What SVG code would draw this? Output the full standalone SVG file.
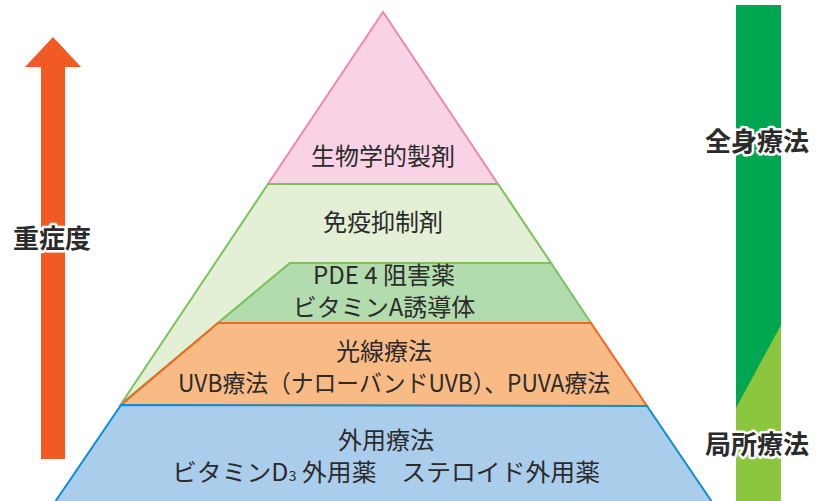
<svg xmlns="http://www.w3.org/2000/svg" width="827" height="501" viewBox="0 0 827 501">
<style>
.t{font-family:"Noto Sans CJK JP","Noto Sans",sans-serif;font-size:24px;fill:#2b2b2b;text-anchor:middle}
.lab{font-family:"Noto Sans CJK JP","Noto Sans",sans-serif;font-size:26px;font-weight:700;fill:#2b2b2b;text-anchor:middle;stroke:#fff;stroke-width:5px;stroke-linejoin:round;paint-order:stroke}
.ln{stroke-width:2;stroke-linejoin:miter}
</style>
<rect width="827" height="501" fill="#fff"/>
<g id="severity-arrow">
<polygon points="53,37 81,67 65,67 65,459 41,459 41,67 25,67" fill="#f15a24"/>
<text class="lab" x="52" y="248">重症度</text>
</g>
<g id="therapy-bar">
<rect x="736" y="5" width="45" height="496" fill="#00a650"/>
<polygon points="781,325 781,501 736,501 736,408" fill="#8cc63f"/>
<text class="lab" x="757" y="151">全身療法</text>
<text class="lab" x="757" y="454">局所療法</text>
</g>
<g id="layer-immuno">
<polygon class="ln" points="268,184 498,184 551,263 290,263 121,404" fill="#e3f0d6" stroke="#7cc25b"/>
<text class="t" x="383" y="231">免疫抑制剤</text>
</g>
<g id="layer-biologics">
<polygon class="ln" points="383,12 498,184 268,184" fill="#f9d3e5" stroke="#ee86b1"/>
<line class="ln" x1="268" y1="184" x2="498" y2="184" stroke="#7cc25b"/>
<text class="t" x="383" y="165">生物学的製剤</text>
</g>
<g id="layer-pde4">
<polygon class="ln" points="290,263 551,263 591,323 218,323" fill="#b3dcae" stroke="#7cc25b"/>
<text class="t" x="384" y="284">PDE 4 阻害薬</text>
<text class="t" x="384" y="316">ビタミンA誘導体</text>
</g>
<g id="layer-phototherapy">
<polygon class="ln" points="218,323 591,323 647,406 121,405" fill="#f9bb86" stroke="#f26522"/>
<text class="t" x="384" y="360">光線療法</text>
<text class="t" x="394" y="392" textLength="432" lengthAdjust="spacingAndGlyphs">UVB療法（ナローバンドUVB）、PUVA療法</text>
</g>
<g id="layer-topical">
<polygon class="ln" points="121,405 647,406 712,502 55,502" fill="#abcdec" stroke="#0f8ed4"/>
<text class="t" x="386" y="449">外用療法</text>
<text class="t" x="386" y="481" textLength="428" lengthAdjust="spacingAndGlyphs">ビタミンD<tspan font-size="14">3</tspan> 外用薬　ステロイド外用薬</text>
</g>
<g id="connectors"></g>
</svg>
